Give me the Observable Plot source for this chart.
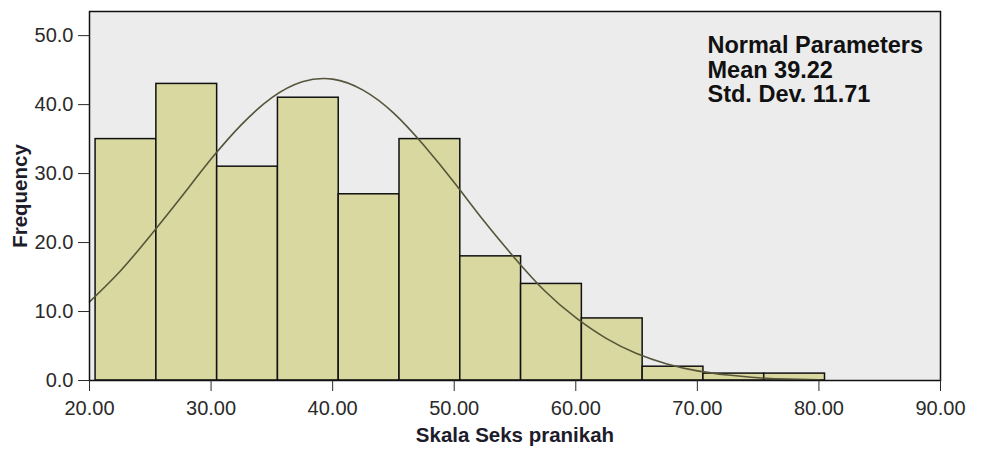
<!DOCTYPE html>
<html>
<head>
<meta charset="utf-8">
<script src="https://cdn.jsdelivr.net/npm/d3@7"></script>
<script src="https://cdn.jsdelivr.net/npm/@observablehq/plot@0.6"></script>
<style>
  html, body { margin: 0; padding: 0; background: #ffffff; }
  #chart svg { display: block; }
</style>
</head>
<body>
<div id="chart"></div>
<script>
// Histogram bins (lower / upper edges) and frequencies
const binLower = [20.5, 25.5, 30.5, 35.5, 40.5, 45.5, 50.5, 55.5, 60.5, 65.5, 70.5, 75.5];
const binUpper = [25.5, 30.5, 35.5, 40.5, 45.5, 50.5, 55.5, 60.5, 65.5, 70.5, 75.5, 80.5];
const frequency = [35, 43, 31, 41, 27, 35, 18, 14, 9, 2, 1, 1];

// Points
const curveX = [20, 22.5, 25, 27.5, 30, 32.5, 35, 37.5, 40, 42.5, 45, 47.5, 50, 52.5, 55, 57.5, 60, 62.5, 65, 67.5, 70, 72.5, 75, 77.5, 80];
const curveY = [11.4, 15.8, 21.0, 26.5, 32.1, 37.1, 41.0, 43.3, 43.7, 42.1, 38.8, 34.1, 28.7, 23.0, 17.7, 12.9, 9.1, 6.1, 3.9, 2.4, 1.4, 0.8, 0.4, 0.2, 0.1];

// Tick values
const xTicks = [20, 30, 40, 50, 60, 70, 80, 90];
const yTicks = [0, 10, 20, 30, 40, 50];

const annotation = ["Normal Parameters\nMean 39.22\nStd. Dev. 11.71"];
const xLabel = ["Skala Seks pranikah"];
const yLabel = ["Frequency"];

const bars = frequency.map((f, i) => ({x1: binLower[i], x2: binUpper[i], y: f}));
const curve = curveX.map((x, i) => ({x, y: curveY[i]}));

const chart = Plot.plot({
  width: 984,
  height: 450,
  marginLeft: 89,
  marginRight: 44,
  marginTop: 11,
  marginBottom: 70,
  style: {fontFamily: "'Liberation Sans', Arial, sans-serif", background: "#ffffff", overflow: "visible"},
  x: {domain: [20, 90]},
  y: {domain: [0, 53.5]},
  marks: [
    Plot.frame({fill: "#ececec", stroke: "none"}),
    Plot.rectY(bars, {x1: "x1", x2: "x2", y: "y", fill: "#d8d8a0", stroke: "#111", strokeWidth: 1.5}),
    Plot.line(curve, {x: "x", y: "y", curve: "natural", stroke: "#56553a", strokeWidth: 1.6}),
    Plot.frame({stroke: "#111", strokeWidth: 1.5}),
    Plot.axisX({ticks: xTicks, tickFormat: d3.format(".2f"), tickSize: 11, tickPadding: 9, fontSize: 20, color: "#2a2a2a", label: null}),
    Plot.axisY({ticks: yTicks, tickFormat: d3.format(".1f"), tickSize: 11, tickPadding: 5, fontSize: 20, color: "#2a2a2a", label: null}),
    Plot.text(annotation, {frameAnchor: "top-right", textAnchor: "start", lineAnchor: "top", dx: -233, dy: 24, fontSize: 23.5, fontWeight: "bold", lineHeight: 1.05, fill: "#111"}),
    Plot.text(xLabel, {frameAnchor: "bottom", textAnchor: "middle", lineAnchor: "middle", dy: 55, fontSize: 20.5, fontWeight: "bold", fill: "#1c1c2a"}),
    Plot.text(yLabel, {frameAnchor: "left", textAnchor: "middle", lineAnchor: "middle", dx: -69, rotate: -90, fontSize: 20.5, fontWeight: "bold", fill: "#1c1c2a"})
  ]
});
document.getElementById("chart").appendChild(chart);
</script>
</body>
</html>
